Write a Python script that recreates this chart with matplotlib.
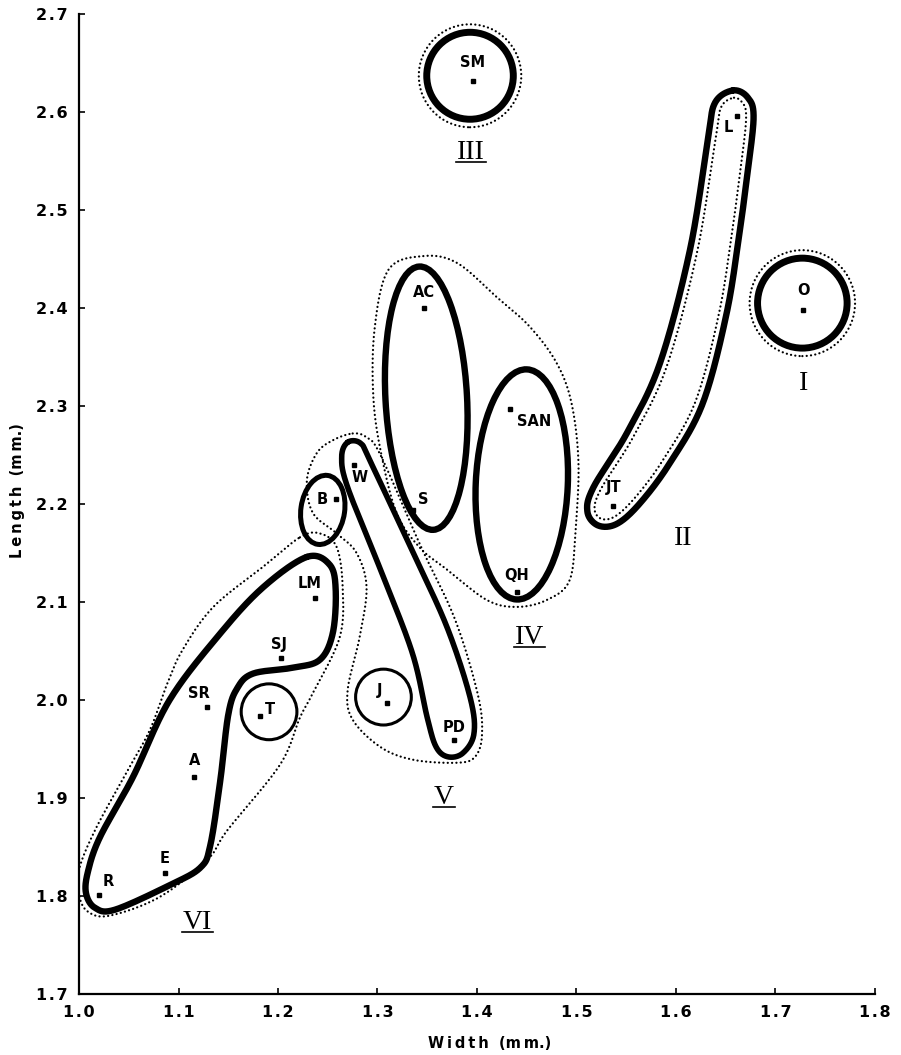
import numpy as np
import matplotlib.pyplot as plt
from matplotlib.patches import Ellipse
from matplotlib.lines import Line2D

# sample means: width (mm) / length (mm)
labels = ['SM', 'L', 'O', 'JT', 'AC', 'SAN', 'S', 'QH', 'W', 'B', 'LM', 'SJ',
          'SR', 'T', 'A', 'J', 'PD', 'E', 'R']
width = [1.396, 1.661, 1.728, 1.537, 1.347, 1.433, 1.336, 1.440, 1.276, 1.258,
         1.237, 1.203, 1.129, 1.182, 1.116, 1.310, 1.377, 1.086, 1.020]
length = [2.632, 2.596, 2.398, 2.198, 2.400, 2.297, 2.194, 2.110, 2.240, 2.205,
          2.104, 2.043, 1.993, 1.984, 1.921, 1.997, 1.959, 1.823, 1.801]

groups = ['I', 'II', 'III', 'IV', 'V', 'VI']
group_x = [1.728, 1.607, 1.394, 1.453, 1.367, 1.119]
group_y = [2.323, 2.165, 2.559, 2.064, 1.901, 1.773]

xticks = [1.0, 1.1, 1.2, 1.3, 1.4, 1.5, 1.6, 1.7, 1.8]
yticks = [1.7, 1.8, 1.9, 2.0, 2.1, 2.2, 2.3, 2.4, 2.5, 2.6, 2.7]

# label offsets from the dot, in pixels (dx right, dy up)
lab_off = {'SM': (0, 18), 'L': (-8, -12), 'O': (0, 19), 'JT': (0, 18),
           'AC': (0, 16), 'SAN': (24, -13), 'S': (10, 10), 'QH': (0, 17),
           'W': (6, -13), 'B': (-14, 0), 'LM': (-5, 15), 'SJ': (-2, 13),
           'SR': (-8, 13), 'T': (10, 6), 'A': (0, 17), 'J': (-8, 12),
           'PD': (0, 13), 'E': (0, 15), 'R': (9, 14)}

# hand drawn outlines (control points, data units)
out_VI = [(1.229, 2.146), (1.252, 2.138), (1.258, 2.112), (1.255, 2.068),
          (1.242, 2.041), (1.215, 2.033), (1.175, 2.027), (1.159, 2.012),
          (1.150, 1.985), (1.142, 1.918), (1.132, 1.852), (1.122, 1.829),
          (1.091, 1.811), (1.036, 1.786), (1.016, 1.788), (1.007, 1.803),
          (1.009, 1.825), (1.021, 1.860), (1.054, 1.921), (1.091, 2.000),
          (1.142, 2.068), (1.185, 2.115)]
dot_VI = [(1.222, 2.166), (1.242, 2.170), (1.259, 2.156), (1.265, 2.115),
          (1.262, 2.064), (1.235, 2.007), (1.222, 1.982), (1.202, 1.934),
          (1.149, 1.867), (1.129, 1.837), (1.081, 1.799), (1.031, 1.780),
          (1.009, 1.784), (1.000, 1.801), (1.000, 1.827), (1.016, 1.867),
          (1.046, 1.923), (1.071, 1.969), (1.088, 2.015), (1.104, 2.051),
          (1.135, 2.095), (1.185, 2.136)]
out_WPD = [(1.270, 2.263), (1.283, 2.262), (1.293, 2.243), (1.336, 2.150),
           (1.370, 2.074), (1.393, 2.003), (1.397, 1.966), (1.386, 1.946),
           (1.371, 1.942), (1.359, 1.952), (1.350, 1.982), (1.335, 2.048),
           (1.303, 2.133), (1.270, 2.217), (1.264, 2.248)]
dot_V = [(1.275, 2.272), (1.289, 2.268), (1.303, 2.250), (1.343, 2.158),
         (1.378, 2.082), (1.401, 2.005), (1.405, 1.964), (1.398, 1.942),
         (1.380, 1.936), (1.336, 1.939), (1.303, 1.952), (1.275, 1.980),
         (1.270, 2.010), (1.282, 2.064), (1.289, 2.115), (1.279, 2.150),
         (1.259, 2.170), (1.235, 2.191), (1.229, 2.224), (1.239, 2.252),
         (1.255, 2.265)]
dot_IV = [(1.346, 2.453), (1.380, 2.446), (1.420, 2.411), (1.453, 2.381),
          (1.480, 2.344), (1.495, 2.303), (1.502, 2.242), (1.499, 2.173),
          (1.493, 2.122), (1.470, 2.102), (1.440, 2.095), (1.410, 2.102),
          (1.370, 2.133), (1.343, 2.155), (1.320, 2.189), (1.305, 2.245),
          (1.296, 2.306), (1.297, 2.378), (1.311, 2.439)]
out_II = [(1.657, 2.622), (1.672, 2.615), (1.678, 2.594), (1.671, 2.531),
          (1.664, 2.478), (1.651, 2.395), (1.627, 2.303), (1.594, 2.242),
          (1.564, 2.201), (1.541, 2.180), (1.522, 2.178), (1.511, 2.192),
          (1.517, 2.217), (1.551, 2.273), (1.584, 2.344), (1.614, 2.459),
          (1.632, 2.571), (1.639, 2.609)]


def closed_spline(pts, n=30):
    p = np.asarray(pts, float)
    m = len(p)
    out = []
    t = np.linspace(0, 1, n, endpoint=False)[:, None]
    for i in range(m):
        p0, p1, p2, p3 = p[i - 1], p[i], p[(i + 1) % m], p[(i + 2) % m]
        out.append(0.5 * (2 * p1 + (-p0 + p2) * t
                          + (2 * p0 - 5 * p1 + 4 * p2 - p3) * t ** 2
                          + (-p0 + 3 * p1 - 3 * p2 + p3) * t ** 3))
    c = np.vstack(out)
    return np.vstack([c, c[:1]])


def offset(curve, d):
    c = curve[:-1]
    tang = np.roll(c, -1, axis=0) - np.roll(c, 1, axis=0)
    nrm = np.column_stack([tang[:, 1], -tang[:, 0]])
    nrm /= np.hypot(nrm[:, 0], nrm[:, 1])[:, None]
    area = 0.5 * np.sum(c[:, 0] * np.roll(c[:, 1], -1) - np.roll(c[:, 0], -1) * c[:, 1])
    sgn = -1 if area > 0 else 1
    o = c + sgn * d * nrm
    return np.vstack([o, o[:1]])


fig = plt.figure(figsize=(9.01, 10.55), dpi=100)
ax = fig.add_axes([0.0877, 0.0578, 0.8834, 0.9289])
ax.set_xlim(1.0, 1.8)
ax.set_ylim(1.7, 2.7)

dot_ls = (0, (0.05, 1.9))
dotted = dict(color='black', lw=1.6, linestyle=dot_ls, dash_capstyle='round', zorder=1)
thick = dict(color='black', lw=4.6, solid_capstyle='round', zorder=2)

# group I, III: single circles with dotted halo
for cx, cy, r in [(1.393, 2.637, 0.0435), (1.727, 2.405, 0.045)]:
    ax.add_patch(Ellipse((cx, cy), 2 * r, 2 * r * 1.02, fill=False, lw=5, ec='black', zorder=2))
    ax.add_patch(Ellipse((cx, cy), 2 * (r + 0.008), 2 * (r + 0.008) * 1.02, fill=False,
                         ec='black', lw=1.6, ls=dot_ls, capstyle='round', zorder=1))

# group II
c = closed_spline(out_II)
ax.plot(c[:, 0], c[:, 1], **thick)
o = offset(c, 0.0075)
ax.plot(o[:, 0], o[:, 1], **dotted)

# group IV
ax.add_patch(Ellipse((1.349, 2.308), 0.082, 0.269, angle=3, fill=False, lw=4.6, ec='black', zorder=2))
ax.add_patch(Ellipse((1.445, 2.220), 0.0925, 0.235, angle=-2.5, fill=False, lw=4.6, ec='black', zorder=2))
c = closed_spline(dot_IV)
ax.plot(c[:, 0], c[:, 1], **dotted)

# group V
c = closed_spline(out_WPD)
ax.plot(c[:, 0], c[:, 1], **dict(thick, lw=4))
ax.add_patch(Ellipse((1.245, 2.194), 0.044, 0.071, angle=-8, fill=False, lw=3.6, ec='black', zorder=2))
ax.add_patch(Ellipse((1.306, 2.003), 0.056, 0.057, fill=False, lw=2.2, ec='black', zorder=2))
c = closed_spline(dot_V)
ax.plot(c[:, 0], c[:, 1], **dotted)

# group VI
c = closed_spline(out_VI)
ax.plot(c[:, 0], c[:, 1], **thick)
ax.add_patch(Ellipse((1.191, 1.988), 0.056, 0.057, fill=False, lw=2.2, ec='black', zorder=2))
c = closed_spline(dot_VI)
ax.plot(c[:, 0], c[:, 1], **dotted)

# points + labels
ax.plot(width, length, 's', color='black', ms=2.6, zorder=4)
for lab, x, y in zip(labels, width, length):
    dx, dy = lab_off[lab]
    ax.annotate(lab, (x, y), xytext=(dx * 0.72, dy * 0.72), textcoords='offset points',
                ha='center', va='center', fontsize=10.5, fontweight='bold', zorder=5)

romans = []
for g, x, y in zip(groups, group_x, group_y):
    romans.append(ax.text(x, y, g, ha='center', va='center', fontsize=20,
                          family='Liberation Serif', zorder=5))

ax.spines['top'].set_visible(False)
ax.spines['right'].set_visible(False)
for s in ('left', 'bottom'):
    ax.spines[s].set_linewidth(1.6)
ax.set_xticks(xticks)
ax.set_yticks(yticks)
ax.set_xticklabels([f'{v:.1f}'.replace('.', '\u200a.\u200a') for v in xticks])
ax.set_yticklabels([f'{v:.1f}'.replace('.', '\u200a.\u200a') for v in yticks])
ax.tick_params(direction='in', length=4, width=1.2, labelsize=11.5, pad=8)
for t in ax.get_xticklabels() + ax.get_yticklabels():
    t.set_fontweight('bold')

ax.set_xlabel('W\u2009i\u2009d\u2009t\u2009h  (m\u2009m.)', fontsize=10.5, fontweight='bold')
ax.set_ylabel('L\u2009e\u2009n\u2009g\u2009t\u2009h  (m\u2009m.)', fontsize=10.5, fontweight='bold')
ax.xaxis.set_label_coords(0.516, -0.043)
ax.yaxis.set_label_coords(-0.068, 0.514)

# underline the roman numerals III-VI
fig.canvas.draw()
inv = fig.transFigure.inverted()
for t in romans[2:]:
    bb = t.get_window_extent()
    (x0, y0), (x1, _) = inv.transform([(bb.x0 - 1, bb.y0 + 3), (bb.x1 + 1, bb.y0 + 3)])
    fig.add_artist(Line2D([x0, x1], [y0, y0], color='black', lw=1.2, transform=fig.transFigure))

fig.savefig('out.png', dpi=100)
